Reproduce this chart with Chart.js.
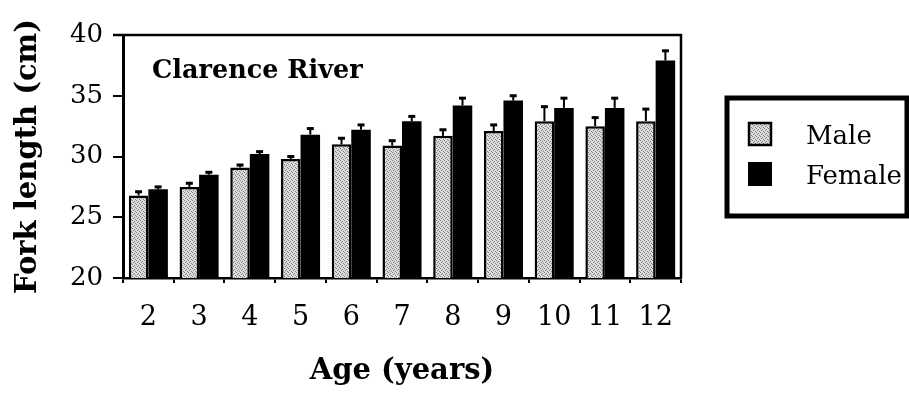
<!DOCTYPE html>
<html>
<head>
<meta charset="utf-8">
<script src="https://cdn.jsdelivr.net/npm/chart.js@4"></script>
<style>
  html, body { margin: 0; padding: 0; background: #fff; }
</style>
</head>
<body>
<canvas id="forkChart" width="909" height="394"></canvas>
<script>
const ages = ['2', '3', '4', '5', '6', '7', '8', '9', '10', '11', '12'];
const male = [26.8, 27.5, 29.1, 29.8, 31.0, 30.9, 31.7, 32.1, 32.9, 32.5, 32.9];
const female = [27.3, 28.5, 30.2, 31.8, 32.2, 32.9, 34.2, 34.6, 34.0, 34.0, 37.9];
const maleErr = [0.3, 0.3, 0.2, 0.2, 0.5, 0.4, 0.5, 0.5, 1.2, 0.7, 1.0];
const femaleErr = [0.2, 0.2, 0.2, 0.5, 0.4, 0.4, 0.6, 0.4, 0.8, 0.8, 0.8];

const serif = "'DejaVu Serif', serif";

// stippled grey fill for the male bars
function stipple() {
  const c = document.createElement('canvas');
  c.width = 4; c.height = 4;
  const g = c.getContext('2d');
  g.fillStyle = '#dcdcdc';
  g.fillRect(0, 0, 4, 4);
  g.fillStyle = '#808080';
  g.fillRect(0, 0, 1, 1);
  g.fillRect(2, 1, 1, 1);
  g.fillRect(1, 2, 1, 1);
  g.fillRect(3, 3, 1, 1);
  return g.createPattern(c, 'repeat');
}
const maleFill = stipple();

const errorBars = {
  id: 'errorBars',
  afterDatasetsDraw(chart) {
    const ctx = chart.ctx;
    const y = chart.scales.y;
    const errs = [maleErr, femaleErr];
    ctx.save();
    ctx.strokeStyle = '#000';
    chart.data.datasets.forEach((ds, i) => {
      chart.getDatasetMeta(i).data.forEach((bar, j) => {
        const top = y.getPixelForValue(ds.data[j] + errs[i][j]);
        ctx.lineWidth = 2;
        ctx.beginPath();
        ctx.moveTo(bar.x, bar.y);
        ctx.lineTo(bar.x, top);
        ctx.stroke();
        ctx.lineWidth = 3;
        ctx.beginPath();
        ctx.moveTo(bar.x - 3.5, top);
        ctx.lineTo(bar.x + 3.5, top);
        ctx.stroke();
      });
    });
    ctx.restore();
  }
};

const frame = {
  id: 'frame',
  afterDraw(chart) {
    const {ctx, chartArea: a} = chart;
    ctx.save();
    ctx.strokeStyle = '#000';
    ctx.lineWidth = 2.5;
    ctx.beginPath();
    ctx.moveTo(a.left - 10, a.top);
    ctx.lineTo(a.right, a.top);
    ctx.lineTo(a.right, a.bottom);
    ctx.stroke();

    // panel label
    ctx.fillStyle = '#000';
    ctx.font = 'bold 25.5px ' + serif;
    ctx.textBaseline = 'alphabetic';
    ctx.fillText('Clarence River', a.left + 29, a.top + 43);

    // legend box
    ctx.lineWidth = 5;
    ctx.strokeRect(727, 98, 180, 118);
    const ds = chart.data.datasets;
    ctx.font = '26px ' + serif;
    ds.forEach((d, i) => {
      const top = 122 + i * 40;
      ctx.fillStyle = d.backgroundColor;
      ctx.fillRect(748, top, 24, 24);
      if (d.borderWidth) {
        ctx.lineWidth = 2.5;
        ctx.strokeRect(749, top + 1, 22, 22);
      }
      ctx.fillStyle = '#000';
      ctx.fillText(d.label, 806, top + 22);
    });
    ctx.restore();
  }
};

new Chart(document.getElementById('forkChart'), {
  type: 'bar',
  data: {
    labels: ages,
    datasets: [
      {
        label: 'Male',
        data: male,
        backgroundColor: maleFill,
        borderColor: '#000',
        borderWidth: 2.5,
        borderSkipped: 'bottom'
      },
      {
        label: 'Female',
        data: female,
        backgroundColor: '#000',
        borderWidth: 0
      }
    ]
  },
  options: {
    responsive: false,
    animation: false,
    layout: { padding: { left: 0, top: 35, right: 228, bottom: 0 } },
    datasets: { bar: { barPercentage: 1, categoryPercentage: 0.77 } },
    plugins: { legend: { display: false }, tooltip: { enabled: false } },
    scales: {
      x: {
        afterFit: s => { s.height = 116; },
        border: { color: '#000', width: 2.5 },
        grid: { drawOnChartArea: false, color: '#000', lineWidth: 2, tickLength: 5 },
        ticks: { color: '#000', font: { family: serif, size: 27 }, padding: 19 },
        title: {
          display: true, text: 'Age (years)', color: '#000',
          font: { family: serif, size: 29, weight: 'bold' },
          padding: { bottom: 5 }
        }
      },
      y: {
        min: 20, max: 40,
        afterFit: s => { s.width = 123; },
        border: { color: '#000', width: 3 },
        grid: { drawOnChartArea: false, color: '#000', lineWidth: 2, tickLength: 10 },
        ticks: {
          stepSize: 2.5, color: '#000', padding: 10,
          font: { family: serif, size: 26 },
          callback: v => (v % 5 === 0 ? v : '')
        },
        title: {
          display: true, text: 'Fork length (cm)', color: '#000',
          font: { family: serif, size: 29, weight: 'bold' },
          padding: { top: 11 }
        }
      }
    }
  },
  plugins: [errorBars, frame]
});
</script>
</body>
</html>
